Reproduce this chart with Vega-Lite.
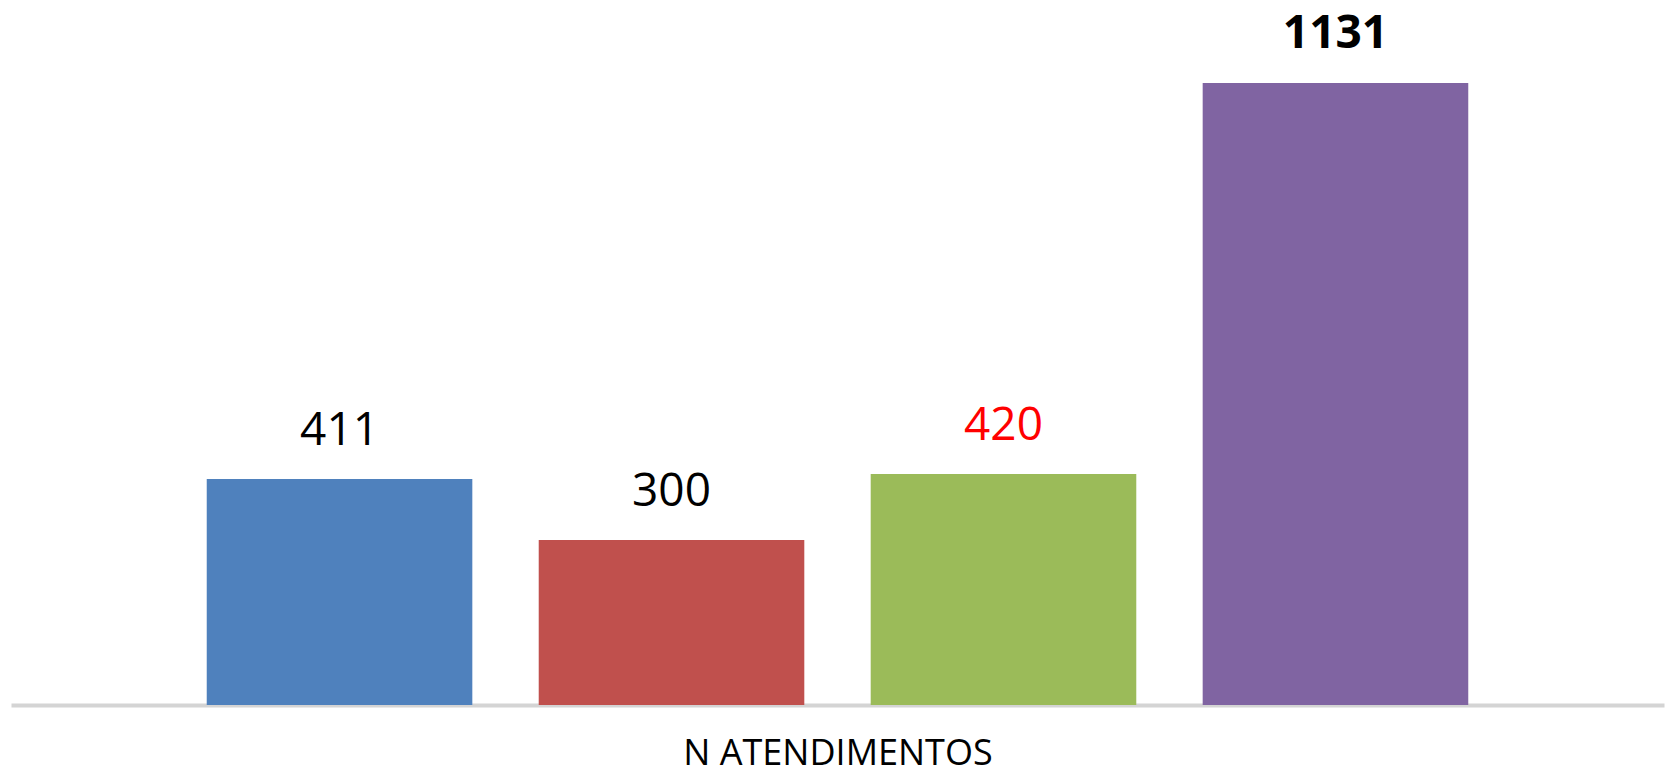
{
  "$schema": "https://vega.github.io/schema/vega-lite/v6.json",
  "width": 1653,
  "height": 660,
  "padding": {"left": 11, "top": 45, "right": 3, "bottom": 75},
  "autosize": {"type": "none"},
  "background": "white",
  "config": {"view": {"stroke": null}},
  "data": {
    "values": [
      {"categoria": "N ATENDIMENTOS", "serie": "Série 1", "valor": 411},
      {"categoria": "N ATENDIMENTOS", "serie": "Série 2", "valor": 300},
      {"categoria": "N ATENDIMENTOS", "serie": "Série 3", "valor": 420},
      {"categoria": "N ATENDIMENTOS", "serie": "Série 4", "valor": 1131}
    ]
  },
  "encoding": {
    "x": {
      "field": "categoria",
      "type": "nominal",
      "scale": {"paddingInner": 0, "paddingOuter": 0.1224},
      "axis": {
        "labels": false,
        "ticks": false,
        "domainColor": "#d4d4d4",
        "domainWidth": 4,
        "title": "N ATENDIMENTOS",
        "titleFont": "Open Sans",
        "titleFontSize": 36,
        "titleFontWeight": "normal",
        "titleColor": "#000000",
        "titlePadding": 31
      }
    },
    "xOffset": {
      "field": "serie",
      "type": "nominal",
      "scale": {"paddingInner": 0.2, "paddingOuter": 0.1}
    },
    "y": {
      "field": "valor",
      "type": "quantitative",
      "scale": {"domain": [0, 1200]},
      "axis": null
    }
  },
  "layer": [
    {
      "mark": {"type": "bar"},
      "encoding": {
        "color": {
          "field": "serie",
          "type": "nominal",
          "scale": {"range": ["#4f81bd", "#c0504d", "#9bbb59", "#8064a2"]},
          "legend": null
        }
      }
    },
    {
      "transform": [{"filter": "datum.valor < 1000"}],
      "mark": {"type": "text", "font": "Open Sans", "fontSize": 46, "baseline": "alphabetic", "dy": -34},
      "encoding": {
        "text": {"field": "valor", "type": "quantitative"},
        "color": {
          "condition": {"test": "datum.serie === 'Série 3'", "value": "#ff0000"},
          "value": "#000000"
        }
      }
    },
    {
      "transform": [{"filter": "datum.valor >= 1000"}],
      "mark": {"type": "text", "font": "Open Sans", "fontSize": 46, "fontWeight": "bold", "baseline": "alphabetic", "dy": -35, "color": "#000000"},
      "encoding": {
        "text": {"field": "valor", "type": "quantitative", "format": "d"}
      }
    }
  ]
}
